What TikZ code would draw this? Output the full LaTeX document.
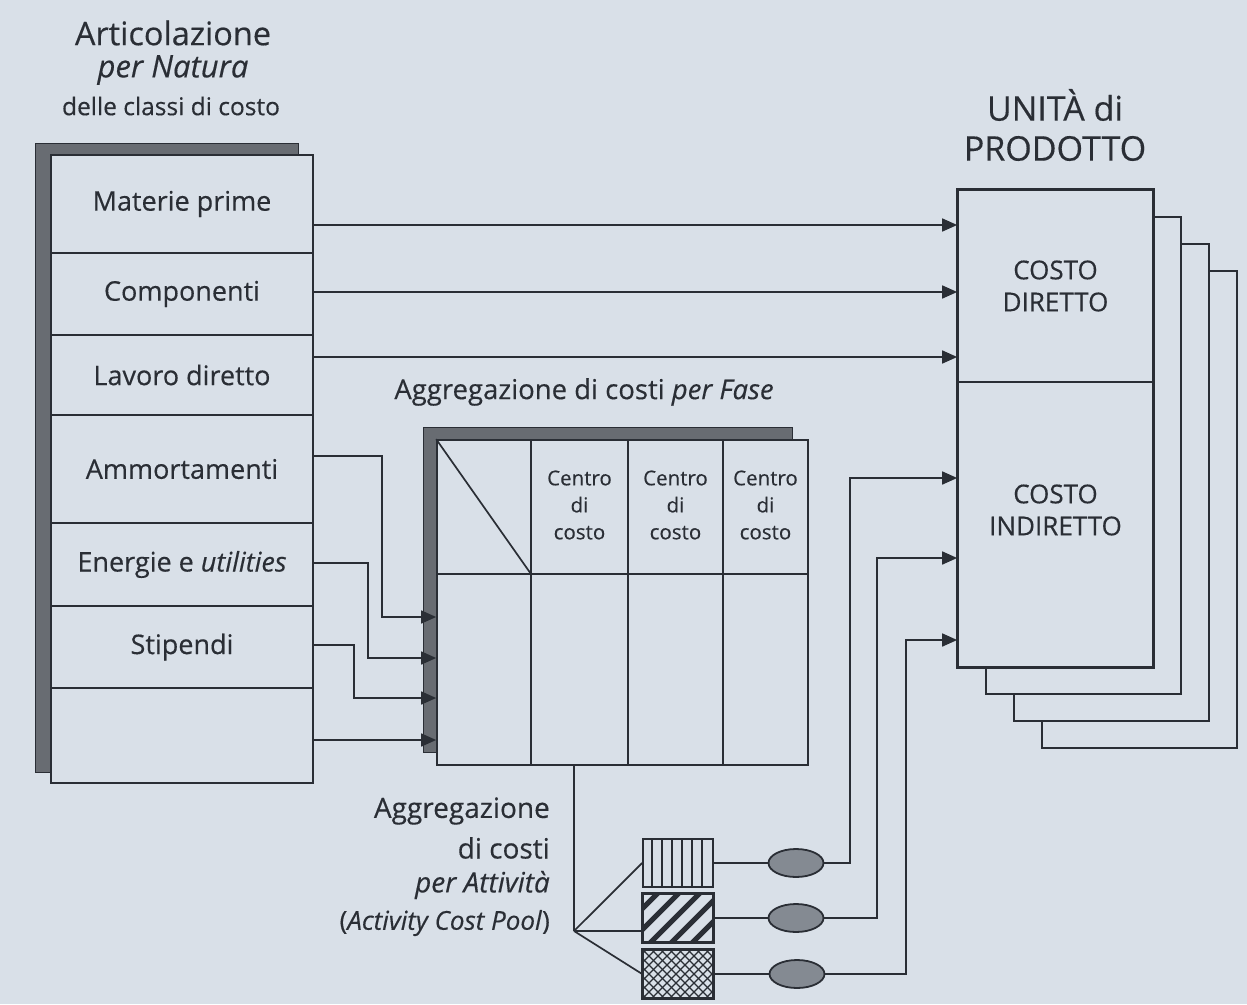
\documentclass[tikz,border=0pt]{standalone}
\usepackage{fontspec}
\setmainfont{Open Sans}[FakeBold=0.35]
\usepackage{tikz}
\usetikzlibrary{arrows.meta,calc,positioning,shapes.geometric}
\definecolor{paper}{HTML}{D9E0E8}
\definecolor{ink}{HTML}{2A2E35}
\definecolor{shade}{HTML}{686C72}
\definecolor{blob}{HTML}{848A92}
\newcommand{\sizept}[2]{\fontsize{#1}{#2}\selectfont}
\tikzset{
  wire/.style={ink,line width=1.7pt},
  flow/.style={ink,line width=1.7pt,-{Triangle[length=15pt,width=13pt]}},
  rowbox/.style={rectangle,draw=ink,line width=1.7pt,fill=paper,minimum width=262pt,inner sep=0pt,text=ink,font=\sizept{27}{32}},
  shadowstrip/.style={fill=shade,draw=ink,line width=0.8pt},
  backsheet/.style={fill=paper,draw=ink,line width=1.4pt},
  pool/.style={rectangle,draw=ink,line width=1.7pt,minimum width=70pt,minimum height=48pt,inner sep=0pt},
  driver/.style={ellipse,draw=ink,line width=1.8pt,fill=blob,minimum width=55pt,minimum height=28pt,inner sep=0pt},
  title/.style={text=ink,inner sep=0pt},
  centro/.style={text=ink,align=center,inner sep=0pt,font=\sizept{20.5}{27}}
}

\begin{document}
\begin{tikzpicture}[x=1pt,y=-1pt]
\useasboundingbox (0,0) rectangle (1247,1004);
\fill[paper] (0,0) rectangle (1247,1004);
% titles
\node[title,font=\sizept{32.5}{36}] (tart) at (173,33) {Articolazione};
\node[title,font=\sizept{31}{36}] (tnat) at (173,70) {\textit{per Natura}};
\node[title,font=\sizept{24.5}{28}] (tdel) at (171,106) {delle classi di costo};
\node[title,font=\sizept{34}{40},align=center] (tuni) at (1055,125) {UNITÀ di\\PRODOTTO};
\node[title,font=\sizept{27.5}{30}] (tfase) at (584,392) {Aggregazione di costi \textit{per Fase}};
\node[title,font=\sizept{28}{32},anchor=east] (tagga) at (550,811) {Aggregazione};
\node[title,font=\sizept{28}{32},anchor=east] (taggb) at (550,848) {di costi};
\node[title,font=\sizept{28}{32},anchor=east] (taggc) at (550,885) {\textit{per Attività}};
\node[title,font=\sizept{26}{28},anchor=east] (taggd) at (550,923) {(\textit{Activity Cost Pool})};
% classi di costo
\fill[shadowstrip] (35,143) rectangle (298,772);
\node[rowbox,minimum height=98pt] (mat) at (182,204) {Materie prime};
\node[rowbox,minimum height=82pt] (comp) at (182,294) {Componenti};
\node[rowbox,minimum height=80pt] (lav) at (182,375) {Lavoro diretto};
\node[rowbox,minimum height=108pt] (amm) at (182,469) {Ammortamenti};
\node[rowbox,minimum height=83pt] (ene) at (182,564.5) {Energie e \textit{utilities}};
\node[rowbox,minimum height=82pt] (sti) at (182,647) {Stipendi};
\node[rowbox,minimum height=95pt] (vuoto) at (182,735.5) {};
% matrice per fase
\fill[shadowstrip] (423,427) rectangle (792,752);
\node[rectangle,draw=ink,line width=1.7pt,fill=paper,minimum width=371pt,minimum height=325pt,inner sep=0pt] (fase) at (622.5,602.5) {};
\foreach \x in {531,628,723}
  \draw[wire] (fase.north -| \x,0) -- (fase.south -| \x,0);
\draw[wire] (fase.west |- 0,574) -- (fase.east |- 0,574);
\draw[wire] (fase.north west) -- (531,574);
\node[centro] (cc1) at (579.5,505) {Centro\\di\\costo};
\node[centro] (cc2) at (675.5,505) {Centro\\di\\costo};
\node[centro] (cc3) at (765.5,505) {Centro\\di\\costo};
% unita di prodotto
\foreach \k in {3,2,1}
  \draw[backsheet] (958+28*\k,190+27*\k) rectangle +(195,477);
\node[rectangle,draw=ink,line width=1.7pt,fill=paper,minimum width=195pt,minimum height=192pt,inner sep=0pt,text=ink,align=center,font=\sizept{26}{32}] (dir) at (1055.5,286) {COSTO\\DIRETTO};
\node[rectangle,draw=ink,line width=1.7pt,fill=paper,minimum width=195pt,minimum height=285pt,inner sep=0pt] (ind) at (1055.5,524.5) {};
\node[title,align=center,font=\sizept{26}{32}] (tind) at (1055.5,510) {COSTO\\INDIRETTO};
\draw[ink,line width=2.8pt] (dir.north west) rectangle (ind.south east);
% activity cost pool
\node[pool] (pa) at (678,863) {};
\node[pool] (pb) at (678,918) {};
\node[pool] (pc) at (678,974) {};
\foreach \i in {1,...,6}
  \draw[wire] ($(pa.north west)+(10*\i,0)$) -- ($(pa.south west)+(10*\i,0)$);
\begin{scope}
  \clip (pb.south west) rectangle (pb.north east);
  \foreach \i in {-3,...,3}
    \draw[ink,line width=5pt] ($(pb.south west)+(8+21*\i,0)$) -- ++(60,-60);
\end{scope}
\begin{scope}
  \clip (pc.south west) rectangle (pc.north east);
  \foreach \i in {-6,...,8} {
    \draw[ink,line width=1.3pt] ($(pc.south west)+(9*\i,0)$) -- ++(60,-60);
    \draw[ink,line width=1.3pt] ($(pc.north west)+(9*\i,0)$) -- ++(60,60);
  }
\end{scope}
\draw[wire] (pb.north west) rectangle (pb.south east);
\draw[wire] (pc.north west) rectangle (pc.south east);
\node[driver] (da) at (796,863) {};
\node[driver] (db) at (796,918) {};
\node[driver] (dc) at (797,974) {};
% collegamenti
\draw[flow] (mat.east |- 0,225) -- (dir.west |- 0,225);
\draw[flow] (comp.east |- 0,292) -- (dir.west |- 0,292);
\draw[flow] (lav.east |- 0,357) -- (dir.west |- 0,357);
\draw[flow] (amm.east |- 0,456) -- (382,456) -- (382,617) -- (fase.west |- 0,617);
\draw[flow] (ene.east |- 0,563) -- (368,563) -- (368,658) -- (fase.west |- 0,658);
\draw[flow] (sti.east |- 0,645) -- (354,645) -- (354,698) -- (fase.west |- 0,698);
\draw[flow] (vuoto.east |- 0,740) -- (fase.west |- 0,740);
\coordinate (split) at (574,931);
\draw[wire] (fase.south -| split) -- (split);
\draw[wire] (split) -- (pa.west);
\draw[wire] (split) -- (pb.west |- split);
\draw[wire] (split) -- (pc.west);
\draw[wire] (pa.east) -- (da.west);
\draw[wire] (pb.east) -- (db.west);
\draw[wire] (pc.east) -- (dc.west);
\draw[flow] (da.east) -| (850,478) -- (ind.west |- 0,478);
\draw[flow] (db.east) -| (877,558) -- (ind.west |- 0,558);
\draw[flow] (dc.east) -| (906,640) -- (ind.west |- 0,640);
\end{tikzpicture}
\end{document}
